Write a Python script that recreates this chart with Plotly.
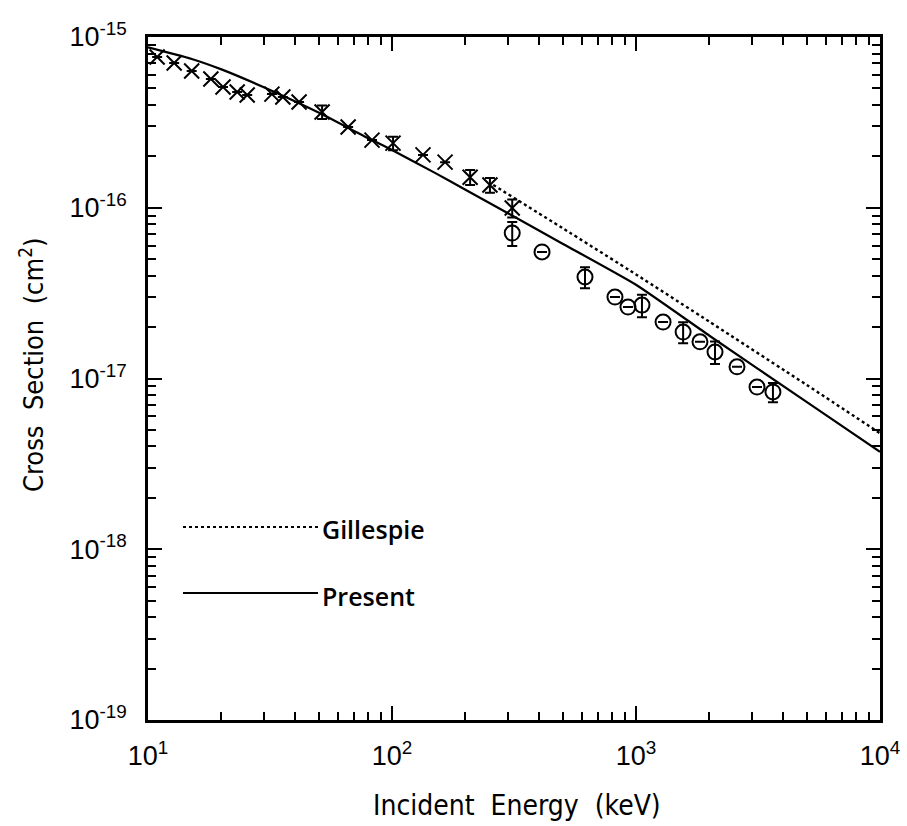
import plotly.graph_objects as go

# ---------------- data ----------------
# Experimental points (crosses) : energy (keV), cross section (cm^2)
cross_E = [10.9, 12.8, 15.1, 18.1, 20.3, 23.2, 25.5, 32.2, 35.7, 41.6,
           51.7, 66.1, 82.8, 101, 134, 165, 209, 252, 311]
cross_S = [7.64e-16, 7.04e-16, 6.32e-16, 5.68e-16, 5.09e-16, 4.76e-16, 4.57e-16,
           4.63e-16, 4.45e-16, 4.16e-16, 3.64e-16, 2.97e-16, 2.49e-16, 2.39e-16,
           2.04e-16, 1.85e-16, 1.51e-16, 1.36e-16, 9.97e-17]
# relative error (fraction) for crosses; 0 = no bar
cross_err = [0, 0, 0, 0, 0, 0, 0, 0, 0, 0,
             0.09, 0, 0, 0.09, 0, 0, 0.10, 0.10, 0.12]

# Experimental points (circles)
circ_E = [311, 412, 618, 820, 927, 1058, 1291, 1560, 1829, 2108, 2594, 3133, 3641]
circ_S = [7.11e-17, 5.51e-17, 3.93e-17, 3.00e-17, 2.62e-17, 2.69e-17, 2.14e-17,
          1.87e-17, 1.64e-17, 1.43e-17, 1.17e-17, 8.91e-18, 8.34e-18]
circ_err = [0.16, 0, 0.14, 0, 0, 0.15, 0, 0.14, 0, 0.15, 0, 0, 0.13]

# Theory curves
present_E = [10, 15, 20, 30, 50, 80, 100, 150, 200, 300, 500, 1000, 2000, 5000, 10000]
present_S = [8.7e-16, 7.46e-16, 6.46e-16, 5.06e-16, 3.61e-16, 2.55e-16, 2.18e-16, 1.60e-16,
             1.275e-16, 9.26e-17, 6.16e-17, 3.54e-17, 1.78e-17, 7.3e-18, 3.72e-18]

gill_E = [260, 500, 1000, 2000, 5000, 10000]
gill_S = [1.36e-16, 7.6e-17, 4.07e-17, 2.15e-17, 9.18e-18, 4.78e-18]

legend_labels = ["Gillespie", "Present"]
x_title = "Incident&nbsp;&nbsp;Energy&nbsp;&nbsp;(keV)"
y_title = "Cross&nbsp; Section&nbsp; (cm<sup>2</sup>)"

x_decades = [10, 100, 1000, 10000]
x_dec_text = ["10<sup>1</sup>", "10<sup>2</sup>", "10<sup>3</sup>", "10<sup>4</sup>"]
y_decades = [1e-19, 1e-18, 1e-17, 1e-16, 1e-15]
y_dec_text = ["10<sup>-19</sup>", "10<sup>-18</sup>", "10<sup>-17</sup>", "10<sup>-16</sup>", "10<sup>-15</sup>"]

# ---------------- figure ----------------
TXT = "Liberation Sans Narrow, DejaVu Sans Condensed, Arial Narrow, sans-serif"
TICKF = "Liberation Sans, Arial, sans-serif"

def errs(vals, rel):
    return [v * r for v, r in zip(vals, rel)]

def all_ticks(lo, hi, dec_vals, dec_text):
    vals, text = list(dec_vals), list(dec_text)
    for k in range(lo, hi):
        for m in range(2, 10):
            vals.append(m * 10.0 ** k)
            text.append("")
    return vals, text

fig = go.Figure()

fig.add_trace(go.Scatter(x=present_E, y=present_S, mode="lines",
                         line=dict(color="black", width=2.2, shape="spline", smoothing=0.5),
                         showlegend=False))
fig.add_trace(go.Scatter(x=gill_E, y=gill_S, mode="lines",
                         line=dict(color="black", width=2.4, dash="dot", shape="spline", smoothing=0.5),
                         showlegend=False))

fig.add_trace(go.Scatter(
    x=cross_E, y=cross_S, mode="markers",
    marker=dict(symbol="x-thin-open", size=15, color="black", line=dict(color="black", width=2)),
    error_y=dict(type="data", array=errs(cross_S, cross_err), symmetric=True,
                 color="black", thickness=2, width=5),
    showlegend=False))

fig.add_trace(go.Scatter(
    x=circ_E, y=circ_S, mode="markers",
    marker=dict(symbol="circle-open", size=15, color="black", line=dict(color="black", width=2)),
    error_y=dict(type="data", array=errs(circ_S, circ_err), symmetric=True,
                 color="black", thickness=2, width=5),
    showlegend=False))

# empty trace so the overlay axes (long decade ticks) get drawn
fig.add_trace(go.Scatter(x=[None], y=[None], xaxis="x2", yaxis="y2", mode="markers",
                         showlegend=False, hoverinfo="skip"))

# legend and titles (drawn in paper coordinates)
PW, PH = 907, 826
ml, mr, mt, mb = 148, 27, 37, 106
def px(xp):
    return (xp - ml) / (PW - ml - mr)
def py(yp):
    return 1 - (yp - mt) / (PH - mt - mb)

L_x0, L_x1 = 183, 318
fig.add_shape(type="line", xref="paper", yref="paper",
              x0=px(L_x0), x1=px(L_x1), y0=py(527), y1=py(527),
              line=dict(color="black", width=2.2, dash="dot"))
fig.add_shape(type="line", xref="paper", yref="paper",
              x0=px(L_x0), x1=px(L_x1), y0=py(593), y1=py(593),
              line=dict(color="black", width=2.2))
LEGF = dict(family="Open Sans, DejaVu Sans, sans-serif", size=25, color="black", weight=600)
fig.add_annotation(xref="paper", yref="paper", x=px(320), y=py(529),
                   text=legend_labels[0], showarrow=False, xanchor="left", yanchor="middle",
                   font=LEGF)
fig.add_annotation(xref="paper", yref="paper", x=px(320), y=py(596),
                   text=legend_labels[1], showarrow=False, xanchor="left", yanchor="middle",
                   font=LEGF)

fig.add_annotation(xref="paper", yref="paper", x=px(517), y=py(805),
                   text=x_title, showarrow=False, xanchor="center", yanchor="middle",
                   font=dict(family=TXT, size=28, color="black"))
fig.add_annotation(xref="paper", yref="paper", x=px(31), y=py(365),
                   text=y_title, showarrow=False, xanchor="center", yanchor="middle",
                   textangle=-90, font=dict(family=TXT, size=27, color="black"))

xv, xt = all_ticks(1, 4, x_decades, x_dec_text)
yv, yt = all_ticks(-19, -15, y_decades, y_dec_text)

axis_common = dict(
    type="log", showline=True, linecolor="black", linewidth=2.5, mirror="ticks",
    ticks="inside", tickwidth=2.4, tickcolor="black",
    showgrid=False, zeroline=False, tickmode="array",
    tickfont=dict(family=TICKF, size=27, color="black"),
)

fig.update_layout(
    xaxis=dict(range=[1, 4], tickvals=xv, ticktext=xt, ticklen=8, ticklabelstandoff=10,
               **axis_common),
    yaxis=dict(range=[-19, -15], tickvals=yv, ticktext=yt, ticklen=8, ticklabelstandoff=13,
               **axis_common),
    xaxis2=dict(range=[1, 4], tickvals=x_decades, ticktext=["", "", "", ""], ticklen=14,
                showticklabels=False, overlaying="x", anchor="y2", side="bottom", **axis_common),
    yaxis2=dict(range=[-19, -15], tickvals=y_decades, ticktext=["", "", "", "", ""], ticklen=14,
                showticklabels=False, overlaying="y", anchor="x2", side="left", **axis_common),
    width=PW, height=PH,
    margin=dict(l=ml, r=mr, t=mt, b=mb, autoexpand=False),
    paper_bgcolor="white", plot_bgcolor="white",
    showlegend=False,
)

fig.write_html("out.html")
